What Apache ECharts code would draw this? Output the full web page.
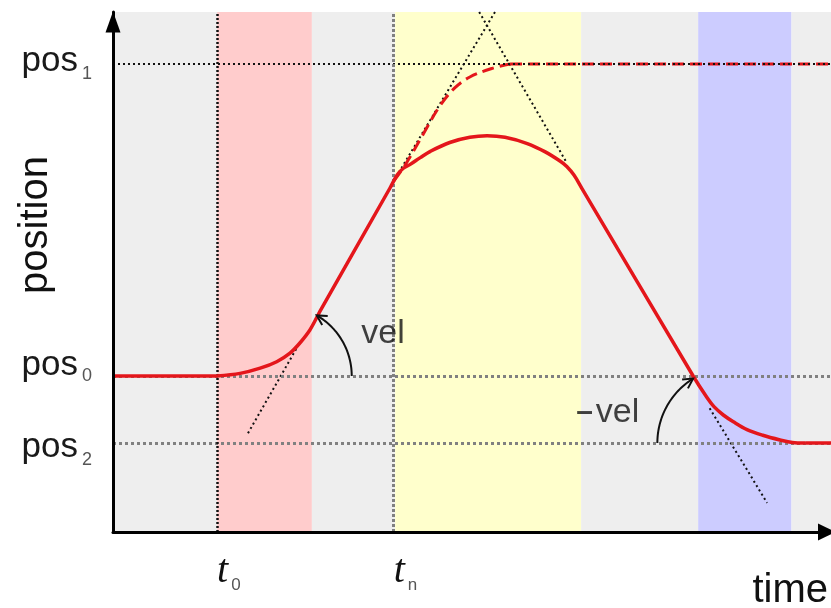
<!DOCTYPE html>
<html>
<head>
<meta charset="utf-8">
<script src="https://cdn.jsdelivr.net/npm/echarts@6/dist/echarts.min.js"></script>
<style>html,body{margin:0;padding:0;background:#fff}#c{width:831px;height:608px}</style>
</head>
<body>
<div id="c"></div>
<script>
// ---------- data (diagram units: time 0-100, position 0-100) ----------
const phaseStarts = [0, 14.5, 27.7, 39.3, 65.2, 81.5, 94.5];
const phaseEnds   = [14.5, 27.7, 39.3, 65.2, 81.5, 94.5, 100];
const phaseNames  = ['wait', 'accelerate', 'cruise', 'retarget', 'cruise back', 'decelerate', 'hold'];

const timeTicks    = [14.5, 39.1];
const timeTickSubs = ['0', 'n'];
const posTicks     = [90, 30, 17.1];
const posTickSubs  = ['1', '0', '2'];

const actualTime = [0, 14.5, 17.7, 20.5, 22.8, 24.65, 26.0, 27.4, 28.55, 28.8,
                    38.6, 39.55, 40.4, 41.4, 42.8, 44.2, 46.9, 49.7, 52.1, 54.6, 57.7, 60.2, 62.3, 63.2, 64.2, 65.3,
                    80.8, 82.7, 83.7, 85.0, 86.4, 88.3, 90.5, 92.9, 94.6, 96.4, 100];
const actualPos  = [30, 30, 30.5, 31.5, 32.75, 34.4, 36.3, 38.8, 41.7, 42.4,
                    66.2, 68.6, 69.9, 70.7, 72.0, 73.2, 74.9, 75.9, 76.2, 75.9, 74.7, 73.1, 71.3, 70.3, 68.65, 66.1,
                    30.0, 25.9, 24.1, 22.5, 21.2, 19.7, 18.6, 17.7, 17.2, 17.1, 17.1];
// index ranges of the actual curve: [from, to, smoothed]
const actualPieces = [[0, 1, false], [1, 35, true], [35, 36, false]];

const plannedTime = [39.1, 40.7, 43.2, 45.5, 47.6, 49.7, 52.9, 55.3, 100];
const plannedPos  = [67.5, 70.6, 76.5, 81.9, 85.4, 87.5, 89.2, 90, 90];
const plannedPieces = [[0, 7, true], [7, 8, false]];

const tangentStartTime = [18.8, 39.1, 51.0, 83.1];
const tangentStartPos  = [19.0, 67.5, 100, 23.8];
const tangentEndTime   = [25.6, 53.2, 63.2, 91.1];
const tangentEndPos    = [35.4, 100, 71.0, 5.6];

const angleLabels     = ['vel', '-vel'];
const angleLabelTime  = [37.6, 68.9];
const angleLabelPos   = [38.1, 22.9];
const angleVertexTime = [23.5, 86.4];
const angleVertexPos  = [30, 17.1];
const angleFrom       = [0, 180];
const angleTo         = [60, 122];

// ---------- styles ----------
const FONT  = '"Liberation Sans", Arial, Helvetica, sans-serif';
const SERIF = '"Liberation Serif", "Times New Roman", serif';
const RED = '#e4161b';
const INK = '#111111';
const bandColors = ['#eeeeee', '#ffcccc', '#eeeeee', '#ffffcc', '#eeeeee', '#ccccff', '#eeeeee'];
const arcRadiusPx = [70, 76];
const SMOOTH = 0.35;

const pairs = (xs, ys) => xs.map((x, i) => [x, ys[i]]);

const chart = echarts.init(document.getElementById('c'), null, { renderer: 'canvas' });

const yRich = {};
const pPad = [[0, 0, 6, 0], [0, 0, 22, 0], [8, 0, 0, 0]];
const sPad = [[20, 0, 0, 4], [0, 0, 0, 4], [34, 0, 0, 4]];
for (let i = 0; i < 3; i++) {
  yRich['p' + i] = { fontFamily: FONT, fontSize: 35, lineHeight: 40, color: '#1a1a1a', verticalAlign: 'middle', padding: pPad[i] };
  yRich['s' + i] = { fontFamily: FONT, fontSize: 18, lineHeight: 20, color: '#555', verticalAlign: 'middle', padding: sPad[i] };
}

const pieceSeries = (name, xs, ys, pieces, z, lineStyle) => pieces.map((pc) => ({
  name: name, type: 'line', z: z, silent: true, symbol: 'none',
  smooth: pc[2] ? SMOOTH : false,
  data: pairs(xs, ys).slice(pc[0], pc[1] + 1),
  lineStyle: lineStyle
}));

const option = {
  animation: false,
  backgroundColor: '#ffffff',
  grid: { left: 113, right: 0, top: 12, bottom: 76, containLabel: false, outerBoundsMode: 'none' },
  xAxis: {
    type: 'value', min: 0, max: 100, z: 10,
    name: 'time', nameLocation: 'end', nameGap: -3, nameMoveOverlap: false,
    nameTextStyle: { fontFamily: FONT, fontSize: 40, color: INK, align: 'right', verticalAlign: 'top', padding: [39, 0, 0, 0] },
    axisLine: { onZero: false, lineStyle: { color: '#000', width: 3 }, symbol: ['none', 'triangle'], symbolSize: [17, 18], symbolOffset: [0, -4] },
    axisTick: { show: false }, splitLine: { show: false },
    axisLabel: {
      customValues: timeTicks, margin: 15, align: 'left',
      formatter: v => '{t|t}{s|' + timeTickSubs[timeTicks.indexOf(v)] + '}',
      rich: {
        t: { fontFamily: SERIF, fontStyle: 'italic', fontSize: 40, lineHeight: 48, color: INK, verticalAlign: 'middle' },
        s: { fontFamily: FONT, fontSize: 17, lineHeight: 20, color: '#555', verticalAlign: 'middle', padding: [28, 0, 0, 3] }
      }
    }
  },
  yAxis: {
    type: 'value', min: 0, max: 100, z: 10,
    name: 'position', nameLocation: 'middle', nameGap: 57, nameMoveOverlap: false,
    nameTextStyle: { fontFamily: FONT, fontSize: 40, color: INK, padding: [0, 0, 0, 94] },
    axisLine: { onZero: false, lineStyle: { color: '#000', width: 3 }, symbol: ['none', 'triangle'], symbolSize: [15, 21], symbolOffset: [0, -10] },
    axisTick: { show: false }, splitLine: { show: false },
    axisLabel: {
      customValues: posTicks, margin: 21,
      formatter: v => { const i = posTicks.indexOf(v); return '{p' + i + '|pos}{s' + i + '|' + posTickSubs[i] + '}'; },
      rich: yRich
    }
  },
  series: [
    {
      name: 'phases', type: 'line', data: [], z: 1, silent: true,
      markArea: {
        silent: true,
        data: phaseStarts.map((s, i) => [{ name: phaseNames[i], xAxis: s, itemStyle: { color: bandColors[i] } }, { xAxis: phaseEnds[i] }]),
        label: { show: false }
      },
      markLine: {
        silent: true, symbol: ['none', 'none'], label: { show: false },
        data: [
          { yAxis: posTicks[0], lineStyle: { color: '#111', width: 2, type: [2, 3] } },
          { yAxis: posTicks[1], lineStyle: { color: '#808080', width: 3, type: [3, 3] } },
          { yAxis: posTicks[2], lineStyle: { color: '#808080', width: 3, type: [3, 3] } },
          { xAxis: timeTicks[0], lineStyle: { color: '#111', width: 2.5, type: [2, 2] } },
          { xAxis: timeTicks[1], lineStyle: { color: '#808080', width: 3, type: [3, 2] } }
        ]
      }
    },
    ...tangentStartTime.map((t, i) => ({
      name: 'tangent' + i, type: 'line', z: 3, silent: true, symbol: 'none',
      data: [[t, tangentStartPos[i]], [tangentEndTime[i], tangentEndPos[i]]],
      lineStyle: { color: '#111', width: 2, type: [2, 3] }
    })),
    ...pieceSeries('planned', plannedTime, plannedPos, plannedPieces, 4, { color: RED, width: 3, type: [12, 6] }),
    ...pieceSeries('actual', actualTime, actualPos, actualPieces, 5, { color: RED, width: 3.5 }),
    {
      name: 'angles', type: 'custom', z: 6, silent: true,
      data: angleVertexTime.map((t, i) => [t, angleVertexPos[i], angleFrom[i], angleTo[i]]),
      renderItem: (params, api) => {
        const i = params.dataIndex;
        const c = api.coord([api.value(0), api.value(1)]);
        const a0 = api.value(2) * Math.PI / 180, a1 = api.value(3) * Math.PI / 180;
        const r = arcRadiusPx[i];
        const pts = [];
        const n = 40;
        for (let k = 0; k <= n; k++) {
          const a = a0 + (a1 - a0) * k / n;
          pts.push([c[0] + r * Math.cos(a), c[1] - r * Math.sin(a)]);
        }
        const end = pts[n], prev = pts[n - 2];
        const dx = end[0] - prev[0], dy = end[1] - prev[1];
        const len = Math.hypot(dx, dy);
        const ux = dx / len, uy = dy / len;
        const L = 11, w = 0.5;
        const rot = (ang) => [ux * Math.cos(ang) - uy * Math.sin(ang), uy * Math.cos(ang) + ux * Math.sin(ang)];
        const d1 = rot(w), d2 = rot(-w);
        const h1 = [end[0] - L * d1[0], end[1] - L * d1[1]];
        const h2 = [end[0] - L * d2[0], end[1] - L * d2[1]];
        return {
          type: 'group', children: [
            { type: 'polyline', shape: { points: pts }, style: { stroke: INK, lineWidth: 2, fill: null } },
            { type: 'polyline', shape: { points: [h1, end, h2] }, style: { stroke: INK, lineWidth: 2, fill: null } }
          ]
        };
      }
    },
    {
      name: 'angleLabels', type: 'scatter', z: 6, silent: true, symbolSize: 0,
      data: angleLabels.map((n, i) => ({ name: n, value: [angleLabelTime[i], angleLabelPos[i]] })),
      label: {
        show: true, position: 'inside',
        formatter: p => p.name.charAt(0) === '-' ? '{m|\u2013}{v|' + p.name.slice(1) + '}' : '{v|' + p.name + '}',
        rich: {
          m: { fontFamily: FONT, fontSize: 30, fontWeight: 'bold', color: INK, padding: [0, 3, 0, 0] },
          v: { fontFamily: FONT, fontSize: 34, color: INK }
        }
      }
    }
  ]
};
chart.setOption(option);
</script>
</body>
</html>
